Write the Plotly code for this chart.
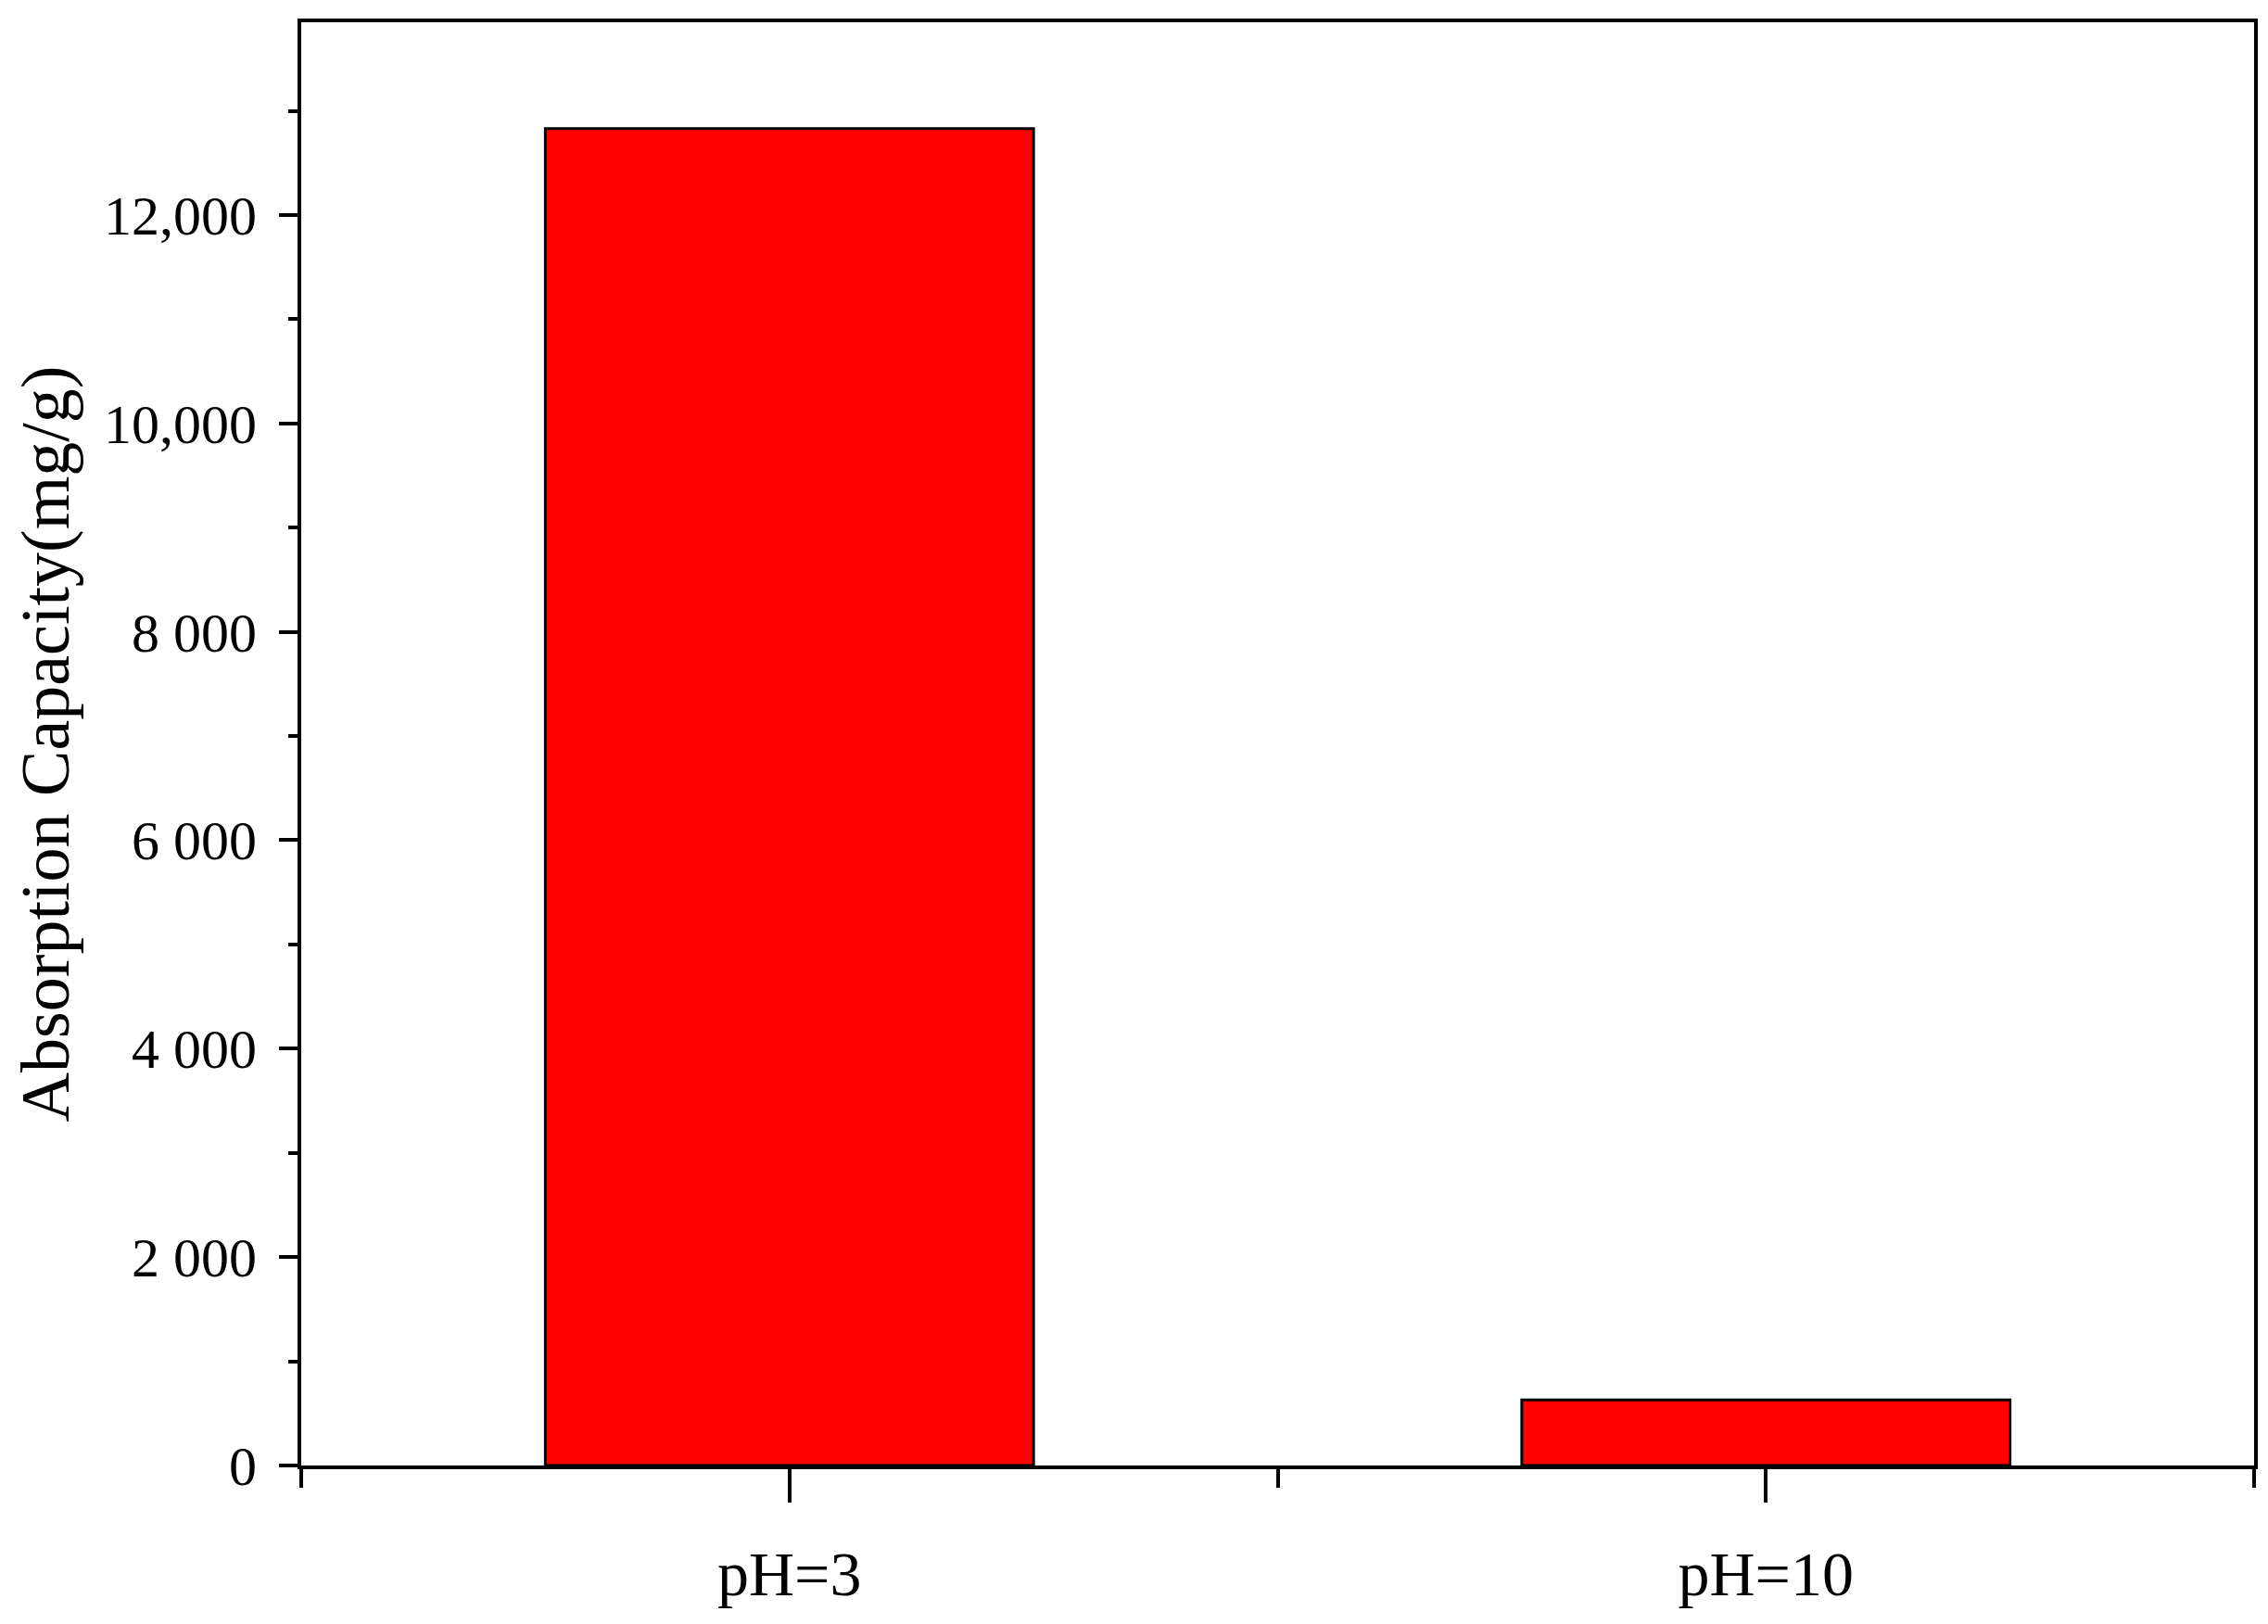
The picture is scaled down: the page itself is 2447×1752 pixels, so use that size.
import plotly.graph_objects as go

# data
categories = ["pH=3", "pH=10"]
capacity = [12830, 630]
y_ticks = [0, 2000, 4000, 6000, 8000, 10000, 12000]
y_tick_labels = ["0", "2 000", "4 000", "6 000", "8 000", "10,000", "12,000"]

font = "Liberation Serif, Times New Roman, serif"

fig = go.Figure(go.Bar(
    x=list(range(len(categories))),
    y=capacity,
    width=0.5,
    marker=dict(color="#ff0000", line=dict(color="black", width=3)),
))

fig.update_layout(
    width=2447, height=1752,
    margin=dict(l=317, r=23, t=13, b=179),
    paper_bgcolor="white", plot_bgcolor="white",
    showlegend=False,
    font=dict(family=font, size=60, color="black"),
)

fig.update_xaxes(
    range=[-0.5, 1.5],
    tickmode="array", tickvals=list(range(len(categories))), ticktext=categories,
    ticks="outside", ticklen=36, tickwidth=3.5, tickcolor="black",
    minor=dict(tickmode="array", tickvals=[-0.5, 0.5, 1.5], ticks="outside",
               ticklen=20, tickwidth=3.5, tickcolor="black"),
    showline=True, linecolor="black", linewidth=4, mirror=True,
    showgrid=False, zeroline=False,
    tickfont=dict(size=68), ticklabelstandoff=18,
)

fig.update_yaxes(
    range=[0, 13850],
    tickmode="array", tickvals=y_ticks, ticktext=y_tick_labels,
    ticks="outside", ticklen=20, tickwidth=3.5, tickcolor="black",
    minor=dict(dtick=1000, ticks="outside", ticklen=10, tickwidth=3.5, tickcolor="black"),
    showline=True, linecolor="black", linewidth=4, mirror=True,
    showgrid=False, zeroline=False,
    tickfont=dict(size=60), ticklabelstandoff=12,
    title=dict(text="Absorption Capacity(mg/g)", font=dict(size=74), standoff=14),
)

fig.write_html("out.html")
